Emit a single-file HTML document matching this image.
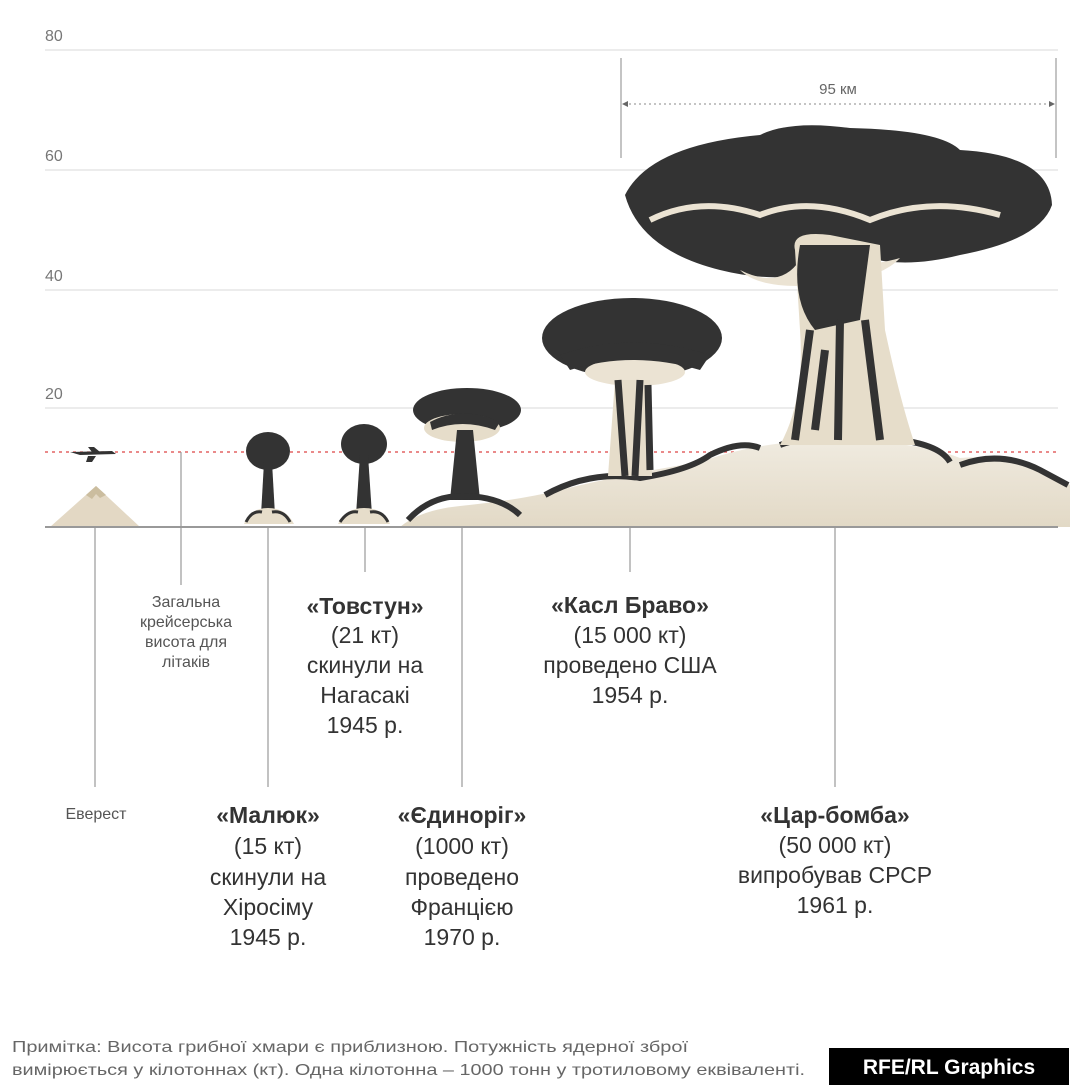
<!DOCTYPE html>
<html><head><meta charset="utf-8"><style>
body{margin:0;background:#fff;}
svg{display:block;font-family:"Liberation Sans","DejaVu Sans",sans-serif;}
</style></head><body>
<svg width="1071" height="1088" viewBox="0 0 1071 1088">
<defs><linearGradient id="bg" x1="0" y1="0" x2="0" y2="1"><stop offset="0" stop-color="#f0ebe0"/><stop offset="1" stop-color="#e2d9c6"/></linearGradient></defs>
<g stroke="#e6e6e6" stroke-width="1.5">
<line x1="45" y1="50" x2="1058" y2="50"/><line x1="45" y1="170" x2="1058" y2="170"/>
<line x1="45" y1="290" x2="1058" y2="290"/><line x1="45" y1="408" x2="1058" y2="408"/>
</g>
<g fill="#777" font-size="16"><text x="45" y="41">80</text><text x="45" y="161">60</text><text x="45" y="281">40</text><text x="45" y="399">20</text></g>
<line x1="45" y1="452" x2="1058" y2="452" stroke="#d44" stroke-width="1.2" stroke-dasharray="3,4"/>
<!-- plane -->
<path d="M70 452 L112 451 L116 454 L80 455 Z M88 447 L94 447 L100 452 L92 452 Z M88 456 L96 456 L92 462 L86 462 Z" fill="#333"/>
<!-- Everest -->
<polygon points="50,527 96,486 140,527" fill="#e3d8c4"/>
<polygon points="86,495 96,486 106,495 100,498 96,494 92,499" fill="#cbbd9f"/>
<!-- ground -->
<path d="M400 527 Q420 510 460 506 Q520 500 560 490 Q620 475 700 462 Q760 440 840 440 Q920 442 960 458 Q1020 452 1070 485 L1070 527 Z" fill="url(#bg)"/>
<path d="M545 495 Q590 470 640 478 Q690 470 710 455 Q740 440 760 448 M780 445 Q820 430 900 440 Q940 445 950 462 M960 465 Q1000 450 1040 470 L1068 485" fill="none" stroke="#333" stroke-width="6"/>
<g fill="#333">
<ellipse cx="268" cy="451" rx="22" ry="19"/>
<polygon points="264,462 272,462 275,515 261,515"/>
<path d="M244 524 Q250 508 268 508 Q286 508 294 524 Z" fill="#e6ddca"/>
<path d="M246 522 Q252 510 262 512 M272 512 Q284 510 290 522" stroke="#333" stroke-width="3" fill="none"/>
<ellipse cx="364" cy="444" rx="23" ry="20"/>
<polygon points="360,455 368,455 372,515 356,515"/>
<path d="M338 524 Q346 508 364 508 Q384 508 390 524 Z" fill="#e6ddca"/>
<path d="M340 522 Q348 510 358 512 M370 512 Q382 510 388 522" stroke="#333" stroke-width="3" fill="none"/>
<ellipse cx="467" cy="410" rx="54" ry="22"/>
<ellipse cx="462" cy="428" rx="38" ry="14" fill="#e6ddca"/>
<path d="M430 422 Q462 405 500 422 L495 430 Q462 418 432 430 Z"/>
<polygon points="457,430 473,430 480,500 450,500"/>
<path d="M408 520 Q430 496 462 496 Q500 496 520 515" stroke="#333" stroke-width="6" fill="none"/>
<ellipse cx="632" cy="338" rx="90" ry="40"/>
<ellipse cx="635" cy="372" rx="50" ry="14" fill="#ebe3d3"/>
<path d="M560 355 Q632 330 710 355 L700 370 Q632 350 570 370 Z"/>
<polygon points="615,380 650,380 652,476 608,476" fill="#e6ddca"/>
<path d="M618 380 L625 476 M640 380 L635 476 M648 385 L650 470" stroke="#333" stroke-width="7"/>
<path d="M625 195 Q650 145 760 135 Q790 120 850 128 Q940 130 960 150 Q1050 155 1052 205 Q1040 240 960 255 Q900 270 860 255 Q800 290 720 270 Q640 250 625 195 Z"/>
<path d="M740 270 Q780 290 800 260 Q860 270 900 258 Q880 280 820 285 Q760 290 740 270 Z" fill="#ebe3d3"/>
<path d="M650 220 Q700 195 760 215 Q810 195 870 220 Q930 195 1000 215" stroke="#ebe3d3" stroke-width="6" fill="none"/>
<path d="M795 250 Q790 230 830 235 L880 245 L885 330 Q900 400 915 445 L780 445 Q805 400 800 330 Z" fill="#e6ddca"/>
<path d="M800 245 L870 245 L860 320 L815 330 Q790 300 800 245 Z"/>
<path d="M810 330 L795 440 M840 320 L838 440 M865 320 L880 440 M825 350 L815 430" stroke="#333" stroke-width="8"/>
</g>
<line x1="45" y1="527" x2="1058" y2="527" stroke="#999" stroke-width="2"/>
<g stroke="#888" stroke-width="1"><line x1="621" y1="58" x2="621" y2="158"/><line x1="1056" y1="58" x2="1056" y2="158"/>
<line x1="624" y1="104" x2="1053" y2="104" stroke-dasharray="2,3"/></g>
<polygon points="622,104 628,101 628,107" fill="#666"/><polygon points="1055,104 1049,101 1049,107" fill="#666"/>
<text x="838" y="94" font-size="15" fill="#666" text-anchor="middle">95 км</text>
<g stroke="#999" stroke-width="1.2">
<line x1="95" y1="527" x2="95" y2="787"/><line x1="181" y1="452" x2="181" y2="585"/>
<line x1="268" y1="527" x2="268" y2="787"/><line x1="365" y1="527" x2="365" y2="572"/>
<line x1="462" y1="527" x2="462" y2="787"/><line x1="630" y1="527" x2="630" y2="572"/>
<line x1="835" y1="527" x2="835" y2="787"/></g>
<g fill="#555" font-size="16" text-anchor="middle">
<text x="186" y="607">Загальна</text><text x="186" y="627">крейсерська</text><text x="186" y="647">висота для</text><text x="186" y="667">літаків</text>
<text x="96" y="819">Еверест</text></g>
<g fill="#333" font-size="23" text-anchor="middle">
<text x="365" y="614" font-weight="bold">«Товстун»</text><text x="365" y="643">(21 кт)</text><text x="365" y="673">скинули на</text><text x="365" y="703">Нагасакі</text><text x="365" y="733">1945 р.</text>
<text x="630" y="613" font-weight="bold">«Касл Браво»</text><text x="630" y="643">(15 000 кт)</text><text x="630" y="673">проведено США</text><text x="630" y="703">1954 р.</text>
<text x="268" y="823" font-weight="bold">«Малюк»</text><text x="268" y="854">(15 кт)</text><text x="268" y="885">скинули на</text><text x="268" y="915">Хіросіму</text><text x="268" y="945">1945 р.</text>
<text x="462" y="823" font-weight="bold">«Єдиноріг»</text><text x="462" y="854">(1000 кт)</text><text x="462" y="885">проведено</text><text x="462" y="915">Францією</text><text x="462" y="945">1970 р.</text>
<text x="835" y="823" font-weight="bold">«Цар-бомба»</text><text x="835" y="853">(50 000 кт)</text><text x="835" y="883">випробував СРСР</text><text x="835" y="913">1961 р.</text>
</g>
<g fill="#666" font-size="16"><text x="12" y="1052" textLength="676" lengthAdjust="spacingAndGlyphs">Примітка: Висота грибної хмари є приблизною. Потужність ядерної зброї</text>
<text x="12" y="1075" textLength="793" lengthAdjust="spacingAndGlyphs">вимірюється у кілотоннах (кт). Одна кілотонна – 1000 тонн у тротиловому еквіваленті.</text></g>
<rect x="829" y="1048" width="240" height="37" fill="#000"/>
<text x="949" y="1074" fill="#fff" font-size="21" font-weight="bold" text-anchor="middle">RFE/RL Graphics</text>
</svg>
</body></html>
